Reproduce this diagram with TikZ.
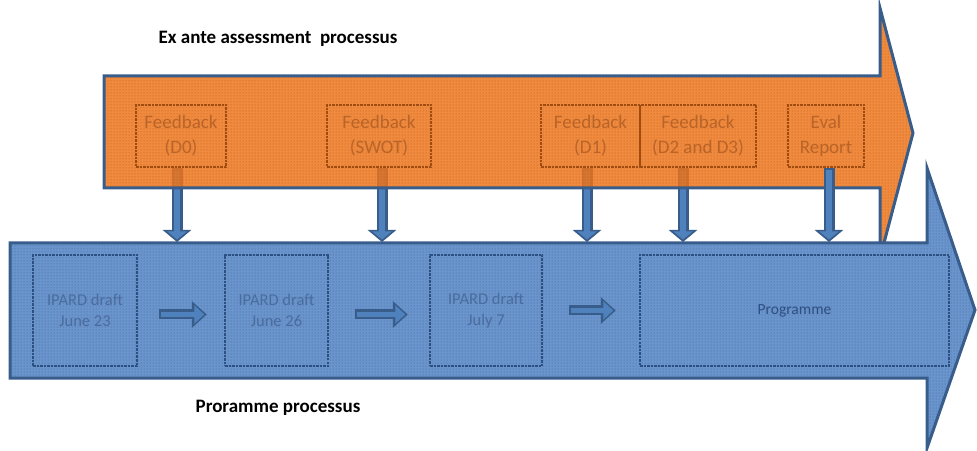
\documentclass[tikz,border=0pt]{standalone}
\usepackage{fontspec}
\setmainfont{Carlito}
\usetikzlibrary{arrows.meta,calc,patterns,positioning}
\pgfdeclarelayer{background}
\pgfsetlayers{background,main}

\definecolor{bandline}{RGB}{56,93,138}
\definecolor{orangefill}{RGB}{237,117,28}
\definecolor{orangedot}{RGB}{190,90,25}
\definecolor{bluefill}{RGB}{106,148,204}
\definecolor{bluedot}{RGB}{66,100,155}
\definecolor{arrline}{RGB}{56,93,138}
\definecolor{arrfill}{RGB}{79,129,189}
\definecolor{fbline}{RGB}{160,75,15}
\definecolor{fbtext}{RGB}{185,100,40}
\definecolor{draftline}{RGB}{45,80,130}
\definecolor{drafttext}{RGB}{75,108,158}

\begin{document}
\begin{tikzpicture}[x=1pt,y=1pt]
\tikzset{
    fb box/.style={
       draw=fbline, line width=2.5pt, densely dotted,
       minimum height=62pt, inner sep=0pt,
       text=fbtext, align=center,
       font=\fontsize{19}{25}\selectfont
    },
    draft box/.style={
       draw=draftline, line width=2.5pt, densely dotted,
       minimum height=111pt, inner sep=0pt,
       text=drafttext, align=center,
       font=\fontsize{16.5}{21}\selectfont
    },
    title/.style={
       font=\fontsize{19}{23}\selectfont\bfseries
    },
    down arr/.style={
       line width=11pt, draw=arrline,
       -{Triangle[width=28pt,length=12pt]},
       postaction={draw=arrfill, line width=6pt,
          -{Triangle[width=19pt,length=8pt]},
          shorten >=2.5pt, shorten <=1.5pt}
    },
    right arr/.style={
       line width=10pt, draw=arrline,
       -{Triangle[width=26pt,length=15pt]},
       postaction={draw=arrfill, line width=5pt,
          -{Triangle[width=18pt,length=10pt]},
          shorten >=2.5pt, shorten <=1.5pt}
    }
}
\useasboundingbox (0,0) rectangle (977,450);
%
\node[title] (exante) at (278,411) {Ex ante assessment\ \ processus};
\node[title] (progproc) at (278,42) {Proramme processus};

% feedback boxes
\node[fb box, minimum width=90pt]  (fD0)   at (181,314)   {Feedback\\(D0)};
\node[fb box, minimum width=104pt] (fSWOT) at (379,314)   {Feedback\\(SWOT)};
\node[fb box, minimum width=99pt]  (fD1)   at (590.5,314) {Feedback\\(D1)};
\node[fb box, minimum width=116pt] (fD23)  at (698,314)   {Feedback\\(D2 and D3)};
\node[fb box, minimum width=76pt]  (fEval) at (826,314)   {Eval\\Report};

% drafts
\node[draft box, minimum width=104pt] (d23)  at (85,139.5)    {IPARD draft\\June 23};
\node[draft box, minimum width=103pt] (d26)  at (276.5,139.5) {IPARD draft\\June 26};
\node[draft box, minimum width=112pt] (d7)   at (486,139.5)   {IPARD draft\\July 7};
\node[draft box, minimum width=309pt, font=\fontsize{15.5}{19}\selectfont, text=draftline]
     (prog) at (794.5,139.5) {Programme};

\coordinate (btop) at (0,208);

\begin{pgfonlayer}{background}
\foreach \n/\dx in {fD0/-4,fSWOT/3,fD1/-3.5,fD23/-15}
  \draw[down arr] ([xshift=\dx pt]\n.south) -- ([xshift=\dx pt]\n.south |- btop);

\path[preaction={fill=orangefill, fill opacity=.85}, pattern=dots, pattern color=orangedot,
      draw=bandline, line width=3pt]
  (104,374) -- (880,374) -- (880,442) -- (913,317) -- (880,192) -- (880,262) -- (104,262) -- cycle;

\path[preaction={fill=bluefill}, pattern=dots, pattern color=bluedot,
      draw=bandline, line width=3pt]
  (10,207) -- (927,207) -- (927,282) -- (975,140) -- (927,2) -- (927,72) -- (10,72) -- cycle;
\end{pgfonlayer}

\draw[down arr] ([xshift=3pt]fEval.south) -- ([xshift=3pt]fEval.south |- btop);

\draw[right arr] ([xshift=21pt,yshift=-4pt]d23.east) -- ([xshift=-17pt,yshift=-4pt]d26.west);
\draw[right arr] ([xshift=26pt,yshift=-4pt]d26.east) -- ([xshift=-21pt,yshift=-4pt]d7.west);
\draw[right arr] ([xshift=26pt]d7.east) -- ([xshift=-23pt]prog.west);
\end{tikzpicture}
\end{document}
